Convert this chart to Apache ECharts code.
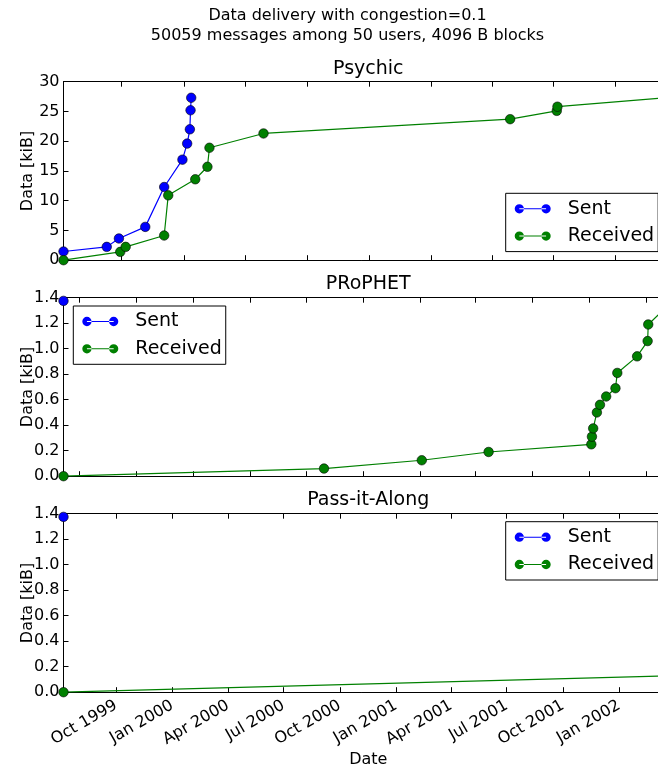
<!DOCTYPE html>
<html>
<head>
<meta charset="utf-8">
<script src="https://cdn.jsdelivr.net/npm/echarts@6/dist/echarts.min.js"></script>
<style>
html,body{margin:0;padding:0;background:#fff;}
#chart{width:658px;height:767px;}
</style>
</head>
<body>
<div id="chart"></div>
<script>
// ---------- data ----------
const panelTitles = ['Psychic', 'PRoPHET', 'Pass-it-Along'];
const seriesNames = ['Sent', 'Received'];
const panelStart = ['1999-07-07', '1999-06-05', '1999-07-07'];
const panelEnd = ['2001-12-25', '2002-02-14', '2002-03-30'];
const yMaxes = [30, 1.4, 1.4];
const ySteps = [5, 0.2, 0.2];
const quarterTicks = ['1999-07-01','1999-10-01','2000-01-01','2000-04-01','2000-07-01','2000-10-01',
  '2001-01-01','2001-04-01','2001-07-01','2001-10-01','2002-01-01'];
const monthNames = ['Jan','Feb','Mar','Apr','May','Jun','Jul','Aug','Sep','Oct','Nov','Dec'];

const psychicSentDates = ['1999-07-07','1999-09-09','1999-09-27','1999-11-05','1999-12-03','1999-12-30',
  '2000-01-06','2000-01-10','2000-01-11','2000-01-12'];
const psychicSentKiB = [1.46, 2.24, 3.65, 5.6, 12.3, 16.9, 19.6, 22.0, 25.2, 27.3];
const psychicRecvDates = ['1999-07-07','1999-09-29','1999-10-07','1999-12-03','1999-12-09','2000-01-18',
  '2000-02-05','2000-02-08','2000-04-28','2001-04-28','2001-07-06','2001-07-07','2001-12-25'];
const psychicRecvKiB = [0, 1.4, 2.24, 4.15, 10.9, 13.6, 15.7, 18.9, 21.3, 23.7, 25.1, 25.8, 27.4];

const prophetSentDates = ['1999-06-05'];
const prophetSentKiB = [1.375];
const prophetRecvDates = ['1999-06-05','2000-07-30','2001-01-04','2001-04-22','2001-10-05','2001-10-06',
  '2001-10-08','2001-10-14','2001-10-19','2001-10-29','2001-11-13','2001-11-16','2001-12-18',
  '2002-01-04','2002-01-05','2002-02-14'];
const prophetRecvKiB = [0, 0.06, 0.125, 0.19, 0.25, 0.31, 0.375, 0.5, 0.56, 0.625, 0.69, 0.81, 0.94,
  1.06, 1.19, 1.375];

const passSentDates = ['1999-07-07'];
const passSentKiB = [1.375];
const passRecvDates = ['1999-07-07','2002-03-30'];
const passRecvKiB = [0, 0.13];

// ---------- helpers ----------
function ts(s) { const p = s.split('-').map(Number); return Date.UTC(p[0], p[1] - 1, p[2]); }
function pairs(dates, vals) { return dates.map((d, i) => [ts(d), vals[i]]); }

const panels = [
  { sent: pairs(psychicSentDates, psychicSentKiB), recv: pairs(psychicRecvDates, psychicRecvKiB) },
  { sent: pairs(prophetSentDates, prophetSentKiB), recv: pairs(prophetRecvDates, prophetRecvKiB) },
  { sent: pairs(passSentDates, passSentKiB), recv: pairs(passRecvDates, passRecvKiB) }
];

const FONT = 'DejaVu Sans';
const BLUE = '#0000ff', GREEN = '#008000';
const gridLeft = 63.5, gridWidth = 609.5, gridHeight = 178.5;
const gridTops = [81.7, 297.7, 513.7];
const titleTops = [60, 274.5, 491];
const legendPos = [
  { left: 505.7, top: 193.3 },
  { left: 73.3, top: 306 },
  { left: 505.7, top: 521.7 }
];

const grids = [], xAxes = [], yAxes = [], series = [], legends = [];
const titles = [{
  text: 'Data delivery with congestion=0.1\n50059 messages among 50 users, 4096 B blocks',
  left: 347.5, top: 6.5, textAlign: 'center', padding: 0,
  textStyle: { fontFamily: FONT, fontSize: 16, fontWeight: 'normal', color: '#000', lineHeight: 19.5 }
}];

const legendIcon = 'path://M0.5,5a4.5,4.5 0 1,0 9,0a4.5,4.5 0 1,0 -9,0Z M26.5,5a4.5,4.5 0 1,0 9,0a4.5,4.5 0 1,0 -9,0Z M5,4.5L31,4.5L31,5.5L5,5.5Z';

for (let i = 0; i < 3; i++) {
  grids.push({ left: gridLeft, top: gridTops[i], width: gridWidth, height: gridHeight,
    containLabel: false, outerBoundsMode: 'none' });
  const mn = ts(panelStart[i]), mx = ts(panelEnd[i]);
  const ticks = quarterTicks.map(ts).filter(t => t >= mn && t <= mx);
  const common = {
    type: 'value', gridIndex: i, min: mn, max: mx, scale: true,
    axisLine: { show: true, onZero: false, lineStyle: { color: '#000', width: 1 } },
    axisTick: { show: true, inside: true, length: 5, lineStyle: { color: '#000', width: 1 }, customValues: ticks },
    splitLine: { show: false },
    axisPointer: { show: false }
  };
  xAxes.push(Object.assign({}, common, {
    position: 'bottom',
    axisLabel: {
      show: i === 2, customValues: ticks, rotate: 30, margin: 12, hideOverlap: false,
      fontFamily: FONT, fontSize: 16, color: '#000',
      formatter: v => { const d = new Date(v); return monthNames[d.getUTCMonth()] + ' ' + d.getUTCFullYear(); }
    },
    name: i === 2 ? 'Date' : '', nameLocation: 'middle', nameGap: 60, nameMoveOverlap: false,
    nameTextStyle: { fontFamily: FONT, fontSize: 16, color: '#000' }
  }));
  xAxes.push(Object.assign({}, common, { position: 'top', axisLabel: { show: false } }));

  yAxes.push({
    type: 'value', gridIndex: i, min: 0, max: yMaxes[i], interval: ySteps[i],
    axisLine: { show: true, lineStyle: { color: '#000', width: 1 } },
    axisTick: { show: true, inside: true, length: 5, lineStyle: { color: '#000' } },
    axisLabel: {
      margin: 4, fontFamily: FONT, fontSize: 16, color: '#000',
      formatter: v => i === 0 ? String(Math.round(v)) : v.toFixed(1)
    },
    splitLine: { show: false },
    name: 'Data [kiB]', nameLocation: 'middle', nameRotate: 90, nameGap: 28, nameMoveOverlap: false,
    nameTextStyle: { fontFamily: FONT, fontSize: 16, color: '#000' }
  });

  titles.push({
    text: panelTitles[i], left: gridLeft + gridWidth / 2, top: titleTops[i], textAlign: 'center', padding: 0,
    textStyle: { fontFamily: FONT, fontSize: 19, fontWeight: 'normal', color: '#000', lineHeight: 19 }
  });

  const lists = [panels[i].sent, panels[i].recv];
  const cols = [BLUE, GREEN];
  for (let k = 0; k < 2; k++) {
    series.push({
      type: 'line', name: seriesNames[k], xAxisIndex: 2 * i, yAxisIndex: i,
      data: lists[k], symbol: 'circle', symbolSize: 9.5, showSymbol: true, showAllSymbol: true,
      lineStyle: { color: cols[k], width: 1.2 },
      itemStyle: { color: cols[k], borderColor: '#000', borderWidth: 0.6 },
      emphasis: { disabled: true }, animation: false, clip: true
    });
  }

  legends.push({
    data: seriesNames, orient: 'vertical', left: legendPos[i].left, top: legendPos[i].top,
    icon: legendIcon, itemWidth: 36, itemHeight: 10, itemGap: 7.3,
    padding: [5.5, 4, 5.5, 9],
    backgroundColor: '#fff', borderColor: '#000', borderWidth: 1, borderRadius: 0,
    itemStyle: { borderWidth: 0 },
    selectedMode: false,
    textStyle: { fontFamily: FONT, fontSize: 19, color: '#000', lineHeight: 20, padding: [0, 0, 0, 12] }
  });
}

const chart = echarts.init(document.getElementById('chart'), null, { renderer: 'canvas' });
chart.setOption({
  backgroundColor: '#fff',
  animation: false,
  title: titles,
  grid: grids,
  xAxis: xAxes,
  yAxis: yAxes,
  legend: legends,
  series: series
});
</script>
</body>
</html>
